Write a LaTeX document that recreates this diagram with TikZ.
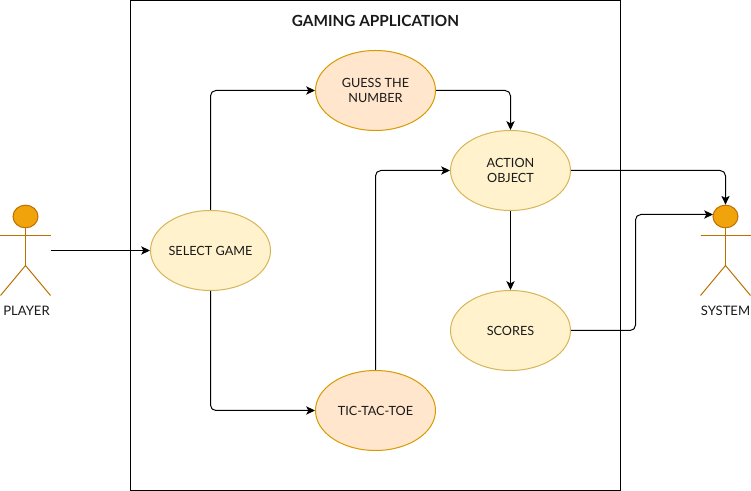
\documentclass[tikz,border=0pt]{standalone}
\usepackage{fontspec}
\setmainfont{Lato}
\usetikzlibrary{arrows.meta,shapes.geometric}
\definecolor{paleFill}{HTML}{FFF2CC}
\definecolor{paleEdge}{HTML}{D6B656}
\definecolor{peachFill}{HTML}{FFE6CC}
\definecolor{peachEdge}{HTML}{D79B00}
\definecolor{actorFill}{HTML}{F0A30A}
\definecolor{actorEdge}{HTML}{BD7000}
\definecolor{inkText}{HTML}{1A1A1A}
\tikzset{
  x=0.75pt,y=-0.75pt,
  base/.style={line width=0.75pt},
  usecase/.style={base,ellipse,minimum width=90pt,minimum height=60pt,inner sep=0pt,align=center,text=inkText,font=\fontsize{9.5}{11.25}\selectfont,execute at begin node={\rule{0pt}{8.2pt}}},
  palecase/.style={usecase,draw=paleEdge,fill=paleFill},
  peachcase/.style={usecase,draw=peachEdge,fill=peachFill},
  head/.style={base,ellipse,minimum width=18.75pt,minimum height=17pt,inner sep=0pt,draw=actorEdge,fill=actorFill},
  limb/.style={base,draw=actorEdge},
  conn/.style={base,draw=black,rounded corners=4pt,-{Stealth[length=6.6pt,width=6.2pt,inset=1.6pt]}},
  actorlabel/.style={inner sep=0pt,text=inkText,font=\fontsize{9.8}{11.25}\selectfont},
}
\begin{document}
\begin{tikzpicture}
\useasboundingbox (0,0) rectangle (751,491);
\node[base,draw=black,fill=white,minimum width=367.5pt,minimum height=367.5pt,inner sep=0pt] (frame) at (375.5,245.5) {};
\node[inner sep=0pt,font=\bfseries\fontsize{11.5}{13}\selectfont,text=inkText] (title) at (375.5,20.5) {GAMING APPLICATION};

\node[palecase] (select) at (210.5,250.5) {SELECT GAME};
\node[peachcase] (guess) at (375.5,90.5) {GUESS THE\\NUMBER};
\node[peachcase] (tic) at (375.5,410.5) {TIC-TAC-TOE};
\node[palecase] (action) at (510.5,170.5) {ACTION\\OBJECT};
\node[palecase] (scores) at (510.5,330.5) {SCORES};

% player actor
\node[head] (phead) at (25.5,216.5) {};
\coordinate (phip) at (25.5,265.5);
\coordinate (plarm) at (0.5,235.5);
\coordinate (prarm) at (50.5,235.5);
\coordinate (plleg) at (0.5,295.5);
\coordinate (prleg) at (50.5,295.5);
\coordinate (phand) at (50.5,250.5);
\draw[limb] (phead.south) -- (phip);
\draw[limb] (plarm) -- (prarm);
\draw[limb] (plleg) -- (phip) -- (prleg);
\node[actorlabel] (plabel) at (26.5,311) {PLAYER};

% system actor
\node[head] (shead) at (725.5,216.5) {};
\coordinate (ship) at (725.5,265.5);
\coordinate (slarm) at (700.5,235.5);
\coordinate (srarm) at (750.5,235.5);
\coordinate (slleg) at (700.5,295.5);
\coordinate (srleg) at (750.5,295.5);
\draw[limb] (shead.south) -- (ship);
\draw[limb] (slarm) -- (srarm);
\draw[limb] (slleg) -- (ship) -- (srleg);
\node[actorlabel] (slabel) at (725.5,311) {SYSTEM};

% connectors
\draw[conn] (phand) -- (select.west);
\draw[conn] (select.north) |- (guess.west);
\draw[conn] (select.south) |- (tic.west);
\draw[conn] (guess.east) -| (action.north);
\draw[conn] (tic.north) |- (action.west);
\draw[conn] (action.south) -- (scores.north);
\draw[conn] (action.east) -| (shead.north);
\coordinate (bend) at (635.5,330.5);
\coordinate (bendtop) at (635.5,214.5);
\coordinate (headin) at (713,214.5);
\draw[conn] (scores.east) -- (bend) -- (bendtop) -- (headin);
\end{tikzpicture}
\end{document}
